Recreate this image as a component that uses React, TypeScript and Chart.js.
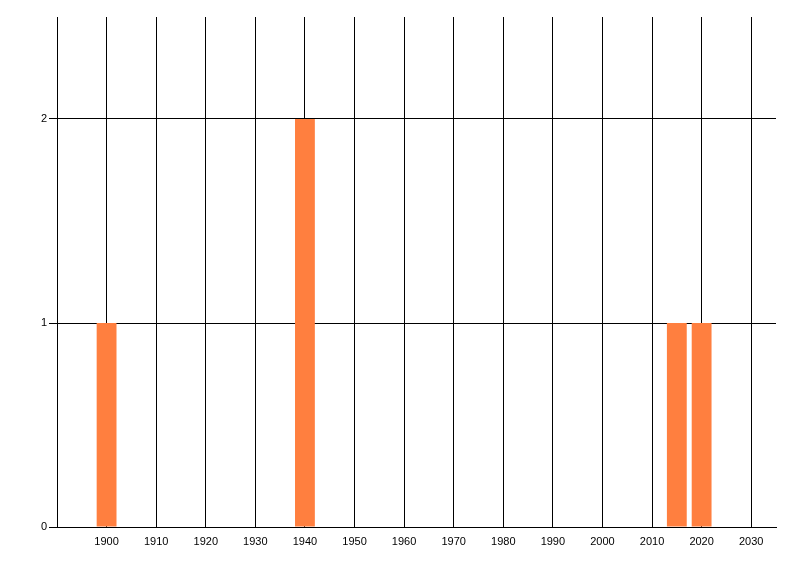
import React, { useEffect, useRef } from "react";
import { Chart, registerables } from "chart.js";

Chart.register(...registerables);

const years = [1900, 1940, 2015, 2020];
const counts = [1, 2, 1, 1];
const xMin = 1890;
const xMax = 2035;
const xStep = 10;
const yMin = 0;
const yMax = 2.5;
const yStep = 1;

export default function App() {
  const ref = useRef<HTMLCanvasElement | null>(null);
  useEffect(() => {
    if (!ref.current) return;
    const font = { family: "'Liberation Sans', Arial, sans-serif", size: 11 };
    const stepTicks = (min: number, max: number, step: number) => {
      const out: { value: number }[] = [];
      for (let v = Math.ceil(min / step) * step; v <= max; v += step) out.push({ value: v });
      return out;
    };
    const chart = new Chart(ref.current, {
      type: "bar",
      data: {
        datasets: [
          {
            data: years.map((x, i) => ({ x, y: counts[i] })),
            backgroundColor: "#ff7f3f",
            borderWidth: 0,
            categoryPercentage: 1,
            barPercentage: 0.8,
          },
        ],
      },
      options: {
        animation: false,
        responsive: false,
        maintainAspectRatio: false,
        layout: { padding: { top: 17, right: 24, left: 0, bottom: 0 } },
        plugins: { legend: { display: false }, tooltip: { enabled: false } },
        scales: {
          x: {
            type: "linear",
            min: xMin,
            max: xMax,
            offset: false,
            grid: { offset: false, color: "#000", lineWidth: 1, drawTicks: false },
            border: { display: true, color: "#000", width: 1 },
            afterBuildTicks: (s: any) => {
              s.ticks = stepTicks(xMin, xMax, xStep);
            },
            afterFit: (s: any) => {
              s.height = 49;
            },
            ticks: {
              stepSize: xStep,
              autoSkip: false,
              maxRotation: 0,
              padding: 8,
              color: "#000",
              font,
              callback: (v: any) => (v === xMin ? "" : String(v)),
            },
          },
          y: {
            min: yMin,
            max: yMax,
            grid: { color: "#000", lineWidth: 1, drawTicks: true, tickLength: 8 },
            border: { display: true, color: "#000", width: 1 },
            afterBuildTicks: (s: any) => {
              s.ticks = stepTicks(yMin, yMax, yStep);
            },
            afterFit: (s: any) => {
              s.width = 57;
            },
            ticks: {
              stepSize: yStep,
              padding: 2,
              color: "#000",
              font,
            },
          },
        },
      },
    });
    return () => chart.destroy();
  }, []);
  return (
    <div style={{ position: "fixed", left: 0, top: 0, width: 800, height: 576, background: "#fff" }}>
      <canvas ref={ref} width={800} height={576} style={{ width: 800, height: 576 }} />
    </div>
  );
}
